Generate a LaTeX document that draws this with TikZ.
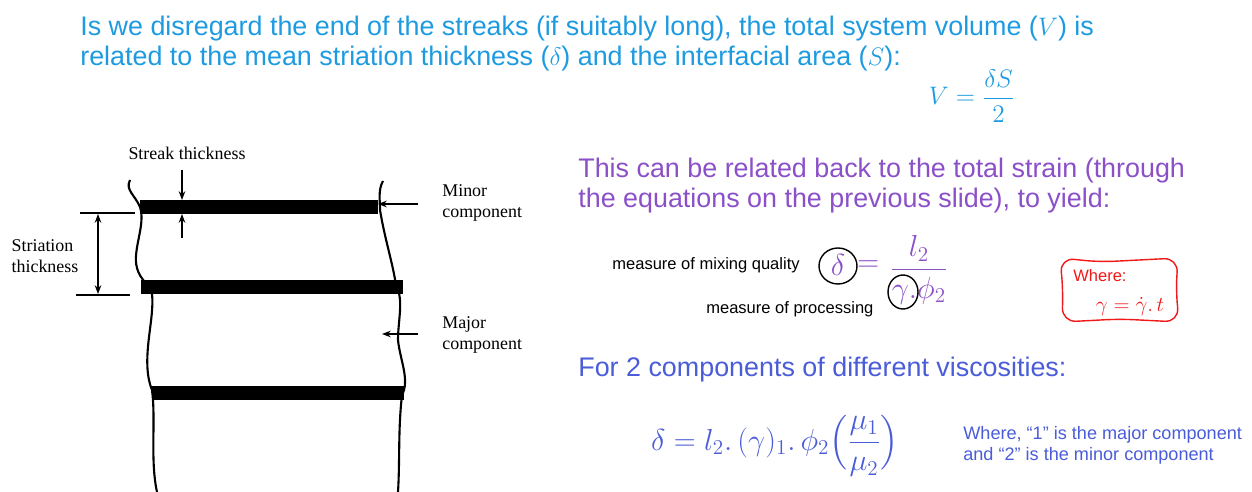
\documentclass[tikz,border=0pt]{standalone}
\usepackage{fontspec}
\usepackage{amsmath}
\usetikzlibrary{arrows.meta}
\setmainfont{Liberation Serif}
\newfontfamily\arial{Liberation Sans}
\definecolor{hblue}{HTML}{1E9BE0}
\definecolor{purp}{HTML}{8B4FC8}
\definecolor{vblue}{HTML}{4A5CD8}
\definecolor{rred}{HTML}{F01818}
\begin{document}
\begin{tikzpicture}[x=0.02cm,y=-0.02cm,
  head/.style={anchor=base west,inner sep=0,font=\arial\fontsize{15.3}{18}\selectfont},
  lab/.style={inner sep=0,font=\fontsize{10.2}{12}\selectfont,align=left},
  small/.style={inner sep=0,font=\arial\fontsize{9.4}{11}\selectfont},
  band/.style={line width=0.29cm},
  wall/.style={line width=1.2pt},
  arr/.style={-{Stealth[length=5pt]},line width=0.7pt}]
\useasboundingbox (0,0) rectangle (1252,492);
% heading
\node[head,text=hblue] (h1) at (80,36) {Is we disregard the end of the streaks (if suitably long), the total system volume ($V$) is};
\node[head,text=hblue] (h2) at (80,66) {related to the mean striation thickness ($\delta$) and the interfacial area ($S$):};
\node[text=hblue,font=\fontsize{15}{17}\selectfont] (veq) at (972,96) {$V=\dfrac{\delta S}{2}$};
% diagram
\draw[wall] (130,180) .. controls (125,190) and (135,195) .. (140,207) .. controls (146,225) and (132,250) .. (137,268) .. controls (140,280) and (150,285) .. (152,294) .. controls (155,320) and (140,360) .. (152,390) .. controls (156,420) and (150,460) .. (157,492);
\draw[wall] (383,181) .. controls (378,190) and (380,200) .. (380,210) .. controls (385,240) and (392,260) .. (396,285) .. controls (404,300) and (398,320) .. (398,340) .. controls (400,360) and (410,380) .. (402,395) .. controls (398,430) and (400,460) .. (398,492);
\draw[band] (140,207) -- (378,207);
\draw[band] (141,287) -- (403,287);
\draw[band] (152,393) -- (404,393);
\node[lab] (st) at (187,153) {Streak thickness};
\coordinate (st1) at (182,170); \coordinate (st2) at (182,200);
\coordinate (st3) at (182,238); \coordinate (st4) at (182,214);
\draw[arr] (st1) -- (st2);
\draw[arr] (st3) -- (st4);
\coordinate (sl1) at (80,213); \coordinate (sl2) at (135,213);
\coordinate (sl3) at (76,295); \coordinate (sl4) at (130,295);
\draw[line width=0.7pt] (sl1) -- (sl2) (sl3) -- (sl4);
\coordinate (sa1) at (98,214); \coordinate (sa2) at (98,294);
\draw[{Stealth[length=5pt]}-{Stealth[length=5pt]},line width=0.7pt] (sa1) -- (sa2);
\node[lab,align=left] (stri) at (45,256) {Striation\\thickness};
\node[lab,anchor=west] (minor) at (442,203) {Minor\\component};
\node[lab,anchor=west] (major) at (442,335) {Major\\component};
\coordinate (ma1) at (418,204); \coordinate (ma2) at (378,204);
\draw[arr] (ma1) -- (ma2);
\coordinate (mb1) at (418,334); \coordinate (mb2) at (382,334);
\draw[arr] (mb1) -- (mb2);
% right
\node[head,text=purp] (p1) at (578,178) {This can be related back to the total strain (through};
\node[head,text=purp] (p2) at (578,208) {the equations on the previous slide), to yield:};
\node[small,anchor=east] (mq) at (800,265) {measure of mixing quality};
\node[small,anchor=west] (mp) at (706,309) {measure of processing};
\node[text=purp,font=\fontsize{18}{20}\selectfont,inner sep=0] (d) at (838,265) {$\delta$};
\node[text=purp,font=\fontsize{18}{20}\selectfont,inner sep=0,anchor=west] (eq) at (857,266) {$=$};
\node[text=purp,font=\fontsize{16.5}{18}\selectfont,inner sep=0] (fr) at (919,270) {$\dfrac{l_2}{\gamma.\phi_2}$};
\draw[line width=0.8pt] (838,266) circle [x radius=19,y radius=18];
\draw[line width=0.8pt] (903,292) circle [x radius=15,y radius=17];
\draw[rred,line width=0.8pt,rounded corners=8pt] (1060,258) -- (1100,262) -- (1178,258) -- (1176,290) -- (1179,322) -- (1120,319) -- (1062,322) -- (1063,290) -- cycle;
\node[small,text=rred,anchor=west] (wh) at (1073,276) {Where:};
\node[text=rred,font=\fontsize{12.5}{14}\selectfont,inner sep=0] (ge) at (1130,307) {$\gamma=\dot{\gamma}.\,t$};
\node[head,text=vblue] (f2) at (578,377) {For 2 components of different viscosities:};
\node[text=vblue,font=\fontsize{17.5}{20}\selectfont,inner sep=0] (f3) at (775,446) {$\delta=l_2.\,(\gamma)_1.\,\phi_2\Bigl(\dfrac{\mu_1}{\mu_2}\Bigr)$};
\node[small,text=vblue,anchor=west,align=left,font=\arial\fontsize{10.3}{12}\selectfont] (wn) at (963,445) {Where, “1” is the major component\\and “2” is the minor component};
\end{tikzpicture}
\end{document}
